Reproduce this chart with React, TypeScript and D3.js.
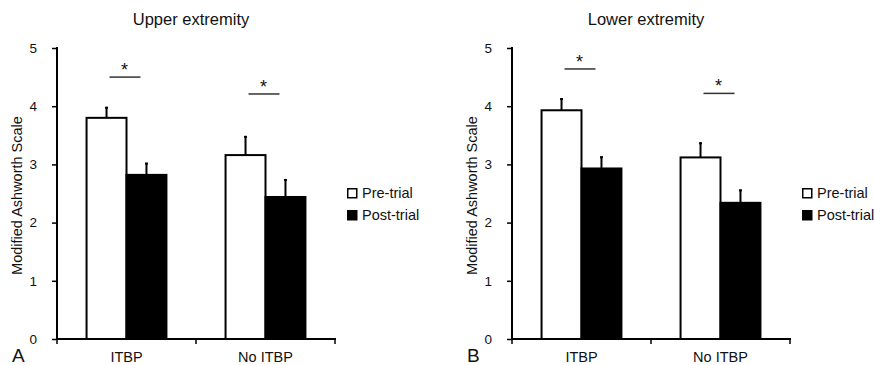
import React, { useEffect, useRef } from "react";
import { axisLeft, format, scaleBand, scaleLinear, select } from "d3";

const width = 874;
const height = 365;
const panelOffset = 455;
const axisLeftX = 57;
const axisRightX = 335;
const axisTopY = 48;
const axisBottomY = 339;
const font = "'Liberation Sans', Arial, sans-serif";

const categories = ["ITBP", "No ITBP"];
const series = ["Pre-trial", "Post-trial"];
const yTicks = [0, 1, 2, 3, 4, 5];
const panelTitles = ["Upper extremity", "Lower extremity"];
const panelLetters = ["A", "B"];

// means and upward SE bars
const upperPre = [3.8, 3.16];
const upperPost = [2.82, 2.44];
const upperPreErr = [0.19, 0.33];
const upperPostErr = [0.21, 0.31];
const upperSig = [4.5, 4.21];

const lowerPre = [3.93, 3.12];
const lowerPost = [2.93, 2.34];
const lowerPreErr = [0.21, 0.26];
const lowerPostErr = [0.21, 0.23];
const lowerSig = [4.64, 4.22];

const yScale = scaleLinear().domain([0, 5]).range([axisBottomY, axisTopY]);
const xScale = scaleBand()
  .domain(categories)
  .range([axisLeftX, axisRightX])
  .paddingInner(0)
  .paddingOuter(0);
const seriesScale = scaleBand()
  .domain(series)
  .range([0, xScale.bandwidth()])
  .paddingInner(0)
  .paddingOuter(0.74);

type PanelProps = {
  offset: number;
  title: string;
  letter: string;
  pre: number[];
  post: number[];
  preErr: number[];
  postErr: number[];
  sig: number[];
};

const Panel = ({ offset, title, letter, pre, post, preErr, postErr, sig }: PanelProps) => {
  const yAxisRef = useRef<SVGGElement>(null);

  useEffect(() => {
    const yAxis = axisLeft(yScale)
      .tickValues(yTicks)
      .tickFormat(format("d") as any)
      .tickSize(5)
      .tickPadding(15);
    select(yAxisRef.current)
      .call(yAxis as any)
      .call((g) => g.selectAll(".domain").remove())
      .call((g) => g.selectAll("line").attr("stroke", "#000").attr("stroke-width", 1.5))
      .call((g) =>
        g
          .selectAll("text")
          .attr("font-family", font)
          .attr("font-size", 13.5)
          .attr("fill", "#111"),
      );
  }, []);

  const rows = categories.map((c, i) => ({
    category: c,
    values: [
      { key: series[0], value: pre[i], err: preErr[i] },
      { key: series[1], value: post[i], err: postErr[i] },
    ],
    sig: sig[i],
  }));

  const edges = [...categories.map((c) => xScale(c) as number), axisRightX];

  return (
    <g transform={`translate(${offset},0)`}>
      <text
        x={(axisLeftX + axisRightX) / 2 - 5}
        y={25}
        textAnchor="middle"
        fontFamily={font}
        fontSize={16.5}
        fill="#111"
      >
        {title}
      </text>
      <text
        transform={`translate(22,${(axisTopY + axisBottomY) / 2 + 2}) rotate(-90)`}
        textAnchor="middle"
        fontFamily={font}
        fontSize={14.5}
        fill="#111"
      >
        Modified Ashworth Scale
      </text>

      {rows.map((row) => {
        const x0 = xScale(row.category) as number;
        const center = x0 + xScale.bandwidth() / 2;
        return (
          <g key={row.category}>
            {row.values.map((d, j) => {
              const bx = x0 + (seriesScale(d.key) as number);
              const bw = seriesScale.bandwidth();
              const cx = bx + bw / 2;
              return (
                <g key={d.key}>
                  <rect
                    x={bx}
                    y={yScale(d.value)}
                    width={bw}
                    height={yScale(0) - yScale(d.value)}
                    fill={j === 0 ? "#fff" : "#000"}
                    stroke="#000"
                    strokeWidth={2}
                  />
                  <line
                    x1={cx}
                    x2={cx}
                    y1={yScale(d.value)}
                    y2={yScale(d.value + d.err)}
                    stroke="#000"
                    strokeWidth={2}
                  />
                  <line
                    x1={cx - 1.5}
                    x2={cx + 1.5}
                    y1={yScale(d.value + d.err) + 1}
                    y2={yScale(d.value + d.err) + 1}
                    stroke="#000"
                    strokeWidth={2}
                  />
                </g>
              );
            })}
            <line
              x1={center - 17}
              x2={center + 14}
              y1={yScale(row.sig)}
              y2={yScale(row.sig)}
              stroke="#333"
              strokeWidth={1.5}
            />
            <text
              x={center - 2}
              y={yScale(row.sig) - 1}
              textAnchor="middle"
              fontFamily={font}
              fontSize={18}
              fill="#111"
            >
              *
            </text>
            <text
              x={center}
              y={362}
              textAnchor="middle"
              fontFamily={font}
              fontSize={14.5}
              fill="#111"
            >
              {row.category}
            </text>
          </g>
        );
      })}

      <g ref={yAxisRef} transform={`translate(${axisLeftX},0)`} />
      <line
        x1={axisLeftX}
        x2={axisLeftX}
        y1={axisTopY - 1}
        y2={axisBottomY}
        stroke="#000"
        strokeWidth={2}
      />
      <line
        x1={axisLeftX - 1}
        x2={axisRightX + 1}
        y1={axisBottomY}
        y2={axisBottomY}
        stroke="#000"
        strokeWidth={2}
      />
      {edges.map((ex, i) => (
        <line
          key={i}
          x1={ex}
          x2={ex}
          y1={axisBottomY}
          y2={axisBottomY + 5}
          stroke="#000"
          strokeWidth={1.5}
        />
      ))}

      {series.map((s, i) => (
        <g key={s} transform={`translate(347,${188 + i * 22})`}>
          <rect
            x={0.75}
            y={0.75}
            width={9}
            height={9}
            fill={i === 0 ? "#fff" : "#000"}
            stroke="#000"
            strokeWidth={1.5}
          />
          <text x={15} y={10} fontFamily={font} fontSize={14.5} fill="#111">
            {s}
          </text>
        </g>
      ))}

      <text x={12} y={362} fontFamily={font} fontSize={19} fill="#111">
        {letter}
      </text>
    </g>
  );
};

const App = () => {
  return (
    <svg
      width={width}
      height={height}
      style={{ position: "absolute", left: 0, top: 0, background: "#fff" }}
    >
      <rect width={width} height={height} fill="#fff" />
      <Panel
        offset={0}
        title={panelTitles[0]}
        letter={panelLetters[0]}
        pre={upperPre}
        post={upperPost}
        preErr={upperPreErr}
        postErr={upperPostErr}
        sig={upperSig}
      />
      <Panel
        offset={panelOffset}
        title={panelTitles[1]}
        letter={panelLetters[1]}
        pre={lowerPre}
        post={lowerPost}
        preErr={lowerPreErr}
        postErr={lowerPostErr}
        sig={lowerSig}
      />
    </svg>
  );
};

export default App;
